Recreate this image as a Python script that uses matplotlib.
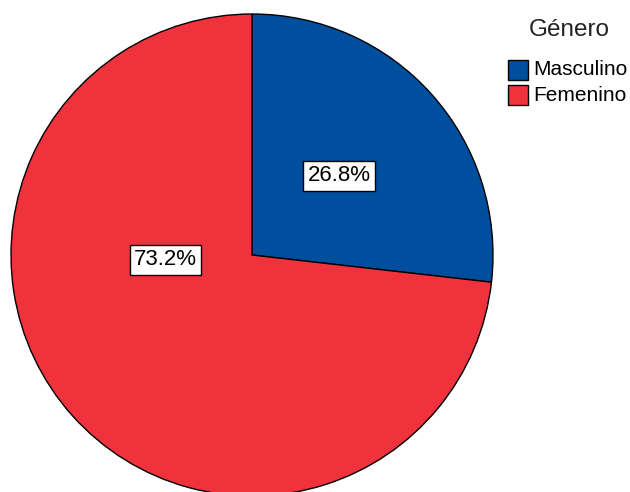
import matplotlib.pyplot as plt
from matplotlib.patches import Rectangle

plt.rcParams['font.family'] = ['Liberation Sans', 'DejaVu Sans']

categories = ['Masculino', 'Femenino']
values = [26.8, 73.2]
colors = ['#004f9f', '#f0323c']
label_pos = [(0.361, 0.328), (-0.359, -0.019)]

fig = plt.figure(figsize=(6.3, 4.92), dpi=100)
W, H = 630, 492
cx, cy, r = 252, 255, 241
ax = fig.add_axes([(cx - r) / W, (H - cy - r) / H, 2 * r / W, 2 * r / H])

wedges, _ = ax.pie(values, colors=colors, startangle=90, counterclock=False,
                   wedgeprops=dict(edgecolor='black', linewidth=1))

for v, (x, y) in zip(values, label_pos):
    ax.text(x, y, f'{v:.1f}%', ha='center', va='center', fontsize=16,
            bbox=dict(facecolor='white', edgecolor='black', linewidth=1,
                      boxstyle='square,pad=0.2'))

ax.set_xlim(-1.0, 1.0)
ax.set_ylim(-1.0, 1.0)
ax.set_aspect('equal')

# legend drawn by hand in pixel coordinates
fig.text(569 / W, 1 - 30 / H, 'Género', ha='center', va='center',
         fontsize=17.5, color='#222222')
for i, (cat, col) in enumerate(zip(categories, colors)):
    yc = 69.5 + i * 26
    fig.add_artist(Rectangle((508 / W, 1 - (yc + 10) / H), 20 / W, 20 / H,
                             facecolor=col, edgecolor='black', linewidth=1,
                             transform=fig.transFigure))
    fig.text(533 / W, 1 - yc / H, cat, ha='left', va='center', fontsize=15)

fig.savefig('out.png', dpi=100)
